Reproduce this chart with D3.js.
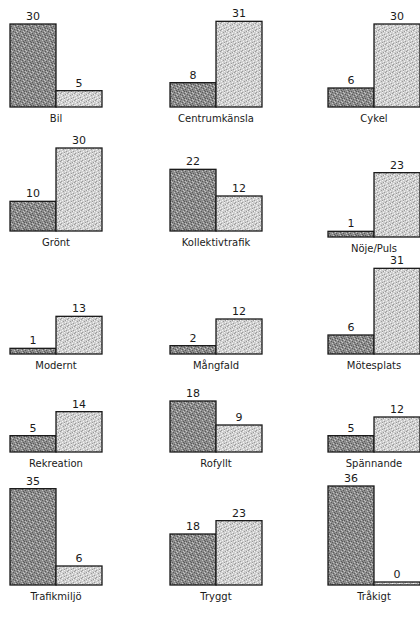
<!DOCTYPE html>
<html>
<head>
<meta charset="utf-8">
<script src="https://cdn.jsdelivr.net/npm/d3@7"></script>
<style>
  body { margin: 0; background: #fff; }
  text { font-family: "DejaVu Sans", Verdana, sans-serif; fill: #1a1a1a; }
</style>
</head>
<body>
<div id="chart"></div>
<script>
// Chart data
const categories = ["Bil", "Centrumkänsla", "Cykel", "Grönt", "Kollektivtrafik", "Nöje/Puls",
    "Modernt", "Mångfald", "Mötesplats", "Rekreation", "Rofyllt", "Spännande",
    "Trafikmiljö", "Tryggt", "Tråkigt"];
const darkValues = [30, 8, 6, 10, 22, 1, 1, 2, 6, 5, 18, 5, 35, 18, 36];
const lightValues = [5, 31, 30, 30, 12, 23, 13, 12, 31, 14, 9, 12, 6, 23, 0];
const seriesKeys = ["dark", "light"];

// Layout of the 3 x 5 grid
const colX = [10, 170, 328];
const rowBase = [107, 231, 354, 452, 585];
const barWidth = 46;

const svg = d3.select("#chart").append("svg")
    .attr("width", 420)
    .attr("height", 618);

// grainy fills, like the scanned original
const defs = svg.append("defs");
function grain(id, base, darkDots, lightDots, darkTone, lightTone) {
    const p = defs.append("pattern")
        .attr("id", id)
        .attr("patternUnits", "userSpaceOnUse")
        .attr("width", 7).attr("height", 7);
    p.append("rect").attr("width", 7).attr("height", 7).attr("fill", base);
    darkDots.forEach(([x, y]) => p.append("rect").attr("x", x).attr("y", y)
        .attr("width", 1).attr("height", 1).attr("fill", darkTone));
    lightDots.forEach(([x, y]) => p.append("rect").attr("x", x).attr("y", y)
        .attr("width", 1).attr("height", 1).attr("fill", lightTone));
}
grain("fillDark", "#8c8c8c",
    [[0, 0], [3, 1], [5, 2], [1, 3], [6, 4], [2, 5], [4, 6], [0, 5]],
    [[2, 0], [6, 1], [0, 2], [4, 3], [1, 6], [5, 5]],
    "#5a5a5a", "#c4c4c4");
grain("fillLight", "#cfcfcf",
    [[1, 0], [4, 2], [0, 4], [5, 5], [2, 6], [6, 1]],
    [[3, 0], [0, 1], [2, 2], [6, 3], [3, 4], [1, 5], [5, 6]],
    "#9a9a9a", "#f4f4f4");

// shared value scale: bar height, with a small base thickness
const h = d3.scaleLinear().domain([0, 36]).range([3, 99]);
const x = d3.scaleBand().domain(seriesKeys).range([0, barWidth * 2]).padding(0);

categories.forEach((cat, i) => {
    const col = i % 3, row = Math.floor(i / 3);
    let base = rowBase[row];
    if (cat === "Nöje/Puls") base += 6;
    const g = svg.append("g")
        .attr("transform", `translate(${colX[col]},${base})`);

    const vals = [
        { key: "dark", v: darkValues[i] },
        { key: "light", v: lightValues[i] }
    ];

    g.selectAll(".bar")
        .data(vals)
        .enter()
        .append("rect")
        .attr("class", "bar")
        .attr("x", d => x(d.key))
        .attr("y", d => -h(d.v))
        .attr("width", x.bandwidth())
        .attr("height", d => h(d.v))
        .attr("fill", d => d.key === "dark" ? "url(#fillDark)" : "url(#fillLight)")
        .attr("stroke", "#1a1a1a")
        .attr("stroke-width", 1.3);

    g.selectAll(".value")
        .data(vals)
        .enter()
        .append("text")
        .attr("class", "value")
        .attr("x", d => x(d.key) + x.bandwidth() / 2)
        .attr("y", d => -h(d.v) - 4)
        .attr("text-anchor", "middle")
        .attr("font-size", "11px")
        .text(d => d.v);

    g.append("text")
        .attr("x", barWidth)
        .attr("y", 15)
        .attr("text-anchor", "middle")
        .attr("font-size", "10px")
        .text(cat);
});
</script>
</body>
</html>
